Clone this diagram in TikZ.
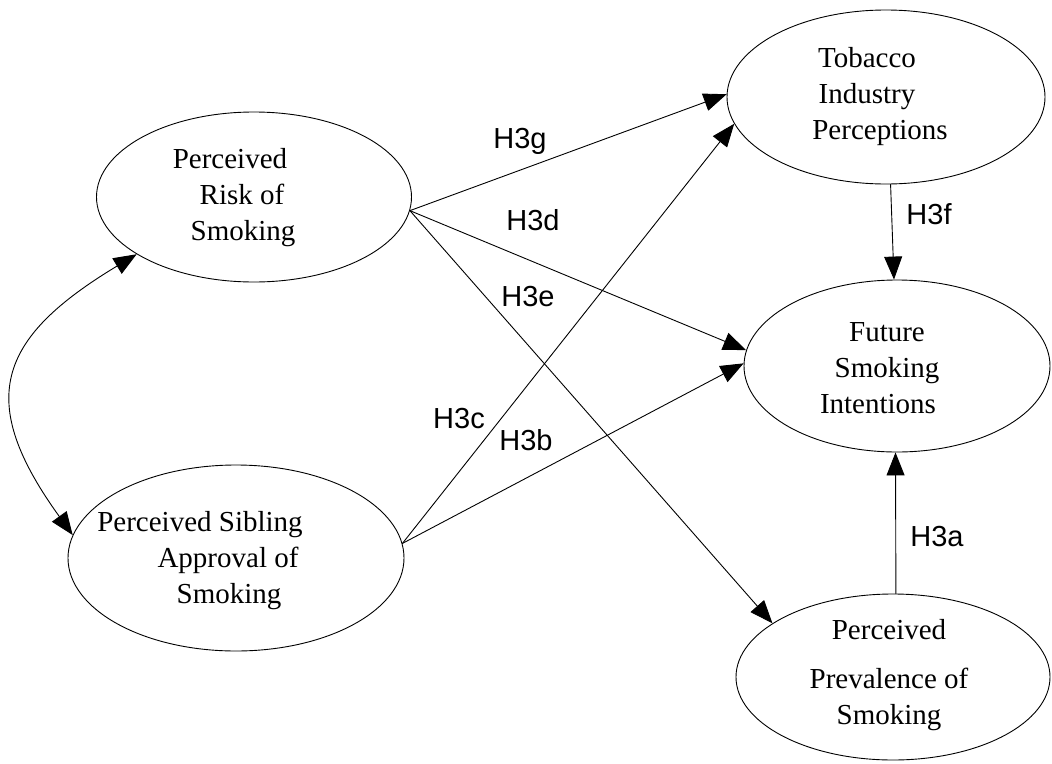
\documentclass[tikz,border=0pt]{standalone}
\usepackage{fontspec}
\setmainfont{Liberation Serif}
\newfontfamily\hypfont{Liberation Sans}
\usetikzlibrary{arrows.meta,shapes.geometric}

\begin{document}
\begin{tikzpicture}[line cap=round,line join=round,>={Triangle[length=23pt,width=18pt]},x=1pt,y=-1pt,line width=0.9pt,
    construct/.style={draw,ellipse,inner sep=0pt},
    txt/.style={align=center,font=\fontsize{29}{36}\selectfont},
    hyp/.style={font=\hypfont\fontsize{29}{34}\selectfont}]
      \useasboundingbox (0,0) rectangle (1052,763);

      % constructs
      \node[construct,minimum width=315pt,minimum height=170pt] (risk) at (254,197) {};
      \node[construct,minimum width=336pt,minimum height=186pt] (sibling) at (236,558) {};
      \node[construct,minimum width=318pt,minimum height=174pt] (tobacco) at (886,97) {};
      \node[construct,minimum width=306pt,minimum height=172pt] (future) at (897,366) {};
      \node[construct,minimum width=314pt,minimum height=166pt] (prevalence) at (893,677) {};

      \node[txt] (risktext) at (230,198) {Perceived\\\hspace*{24pt}Risk of\\\hspace*{26pt}Smoking};
      \node[txt] (siblingtext) at (200,561) {Perceived Sibling\\\hspace*{56pt}Approval of\\\hspace*{58pt}Smoking};
      \node[txt] (tobaccotext) at (867,97) {Tobacco\\Industry\\\hspace*{26pt}Perceptions};
      \node[txt] (futuretext) at (887,368) {Future\\Smoking\\Intentions\hspace*{18pt}};
      \node[txt] (prevalencetext) at (889,675) {Perceived\\[13pt]Prevalence of\\Smoking};

      % paths
      \draw[->] (risk.-5) -- (tobacco.179);
      \draw[->] (risk.-5) -- (future.174);
      \draw[->] (risk.-5) -- (prevalence.156);
      \draw[->] (sibling.5) -- (tobacco.190);
      \draw[->] (sibling.5) -- (future.179);
      \draw[->] (tobacco.-87) -- (future.92);
      \draw[->] (prevalence.88) -- (future.-91);
      \draw[<->] (risk.206) .. controls (-4,339) and (-24,401) .. (sibling.172);

      % hypotheses
      \node[hyp] (h3g) at (520,141) {H3g};
      \node[hyp] (h3d) at (533,220) {H3d};
      \node[hyp] (h3e) at (528,297) {H3e};
      \node[hyp] (h3c) at (459,419) {H3c};
      \node[hyp] (h3b) at (526,440) {H3b};
      \node[hyp] (h3f) at (929,214) {H3f};
      \node[hyp] (h3a) at (937,537) {H3a};
    \end{tikzpicture}
\end{document}
